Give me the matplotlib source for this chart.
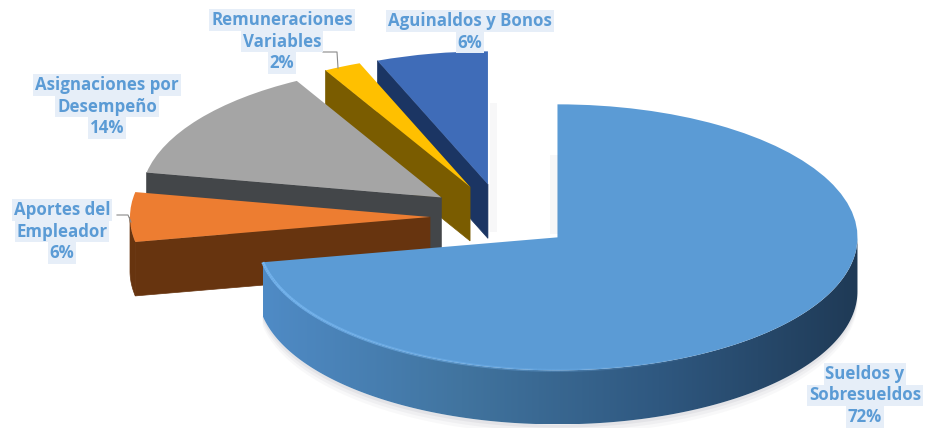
import numpy as np
import matplotlib
matplotlib.use('Agg')
import matplotlib.pyplot as plt
from matplotlib.colors import LinearSegmentedColormap
from matplotlib.patches import Polygon

plt.rcParams['font.family'] = ['Open Sans', 'DejaVu Sans']

# data, clockwise from 12 o'clock
categories = ['Sueldos y\nSobresueldos', 'Aportes del\nEmpleador', 'Asignaciones por\nDesempeño',
              'Remuneraciones\nVariables', 'Aguinaldos y Bonos']
values = [72, 6, 14, 2, 6]
explode = [0.24, 0.24, 0.25, 0.25, 0.25]
top_colors = ['#5b9bd5', '#ed7d31', '#a5a5a5', '#ffc000', '#3f6cb8']
side_colors = ['#2a4d70', '#67340f', '#434649', '#7a5c00', '#1b3563']

# label centres in pixels, first line y
label_x = [865, 62, 107, 282, 470]
label_y = [374, 210, 85, 20, 21]

W, H = 926, 428
CX, CY, RX, RY = 502, 217, 300, 133
DEPTH = 54 / RY

fig = plt.figure(figsize=(W / 100, H / 100), dpi=100)
ax = fig.add_axes([0, 0, 1, 1])
wedges, _ = ax.pie(values, explode=explode, colors=top_colors, startangle=90, counterclock=False)
xlim = (-CX / RX, (W - CX) / RX)
ylim = ((CY - H) / RY, CY / RY)
ax.axis('off')

rim_cmap = LinearSegmentedColormap.from_list('rim', ['#4f8bc6', '#41749f', '#2f5880', '#1f3a56'])

# 3d sides
n = len(values)
for i, w in enumerate(wedges):
    z = 10 * (n - i)
    w.set_zorder(z + 5)
    w.set_linewidth(0)
    cx, cy = w.center

    # cut face on the lower edge of the slice
    if i > 0:
        t = np.radians(w.theta2)
        ox, oy = cx + w.r * np.cos(t), cy + w.r * np.sin(t)
        ax.fill([cx, ox, ox, cx], [cy, oy, oy - DEPTH, cy - DEPTH], color=side_colors[i], lw=0.5, zorder=z + 1)

    # front part of the rim
    angles = np.linspace(w.theta1, w.theta2, 300)
    angles = angles[np.sin(np.radians(angles)) <= 0.001]
    if len(angles) < 2:
        continue
    xs = cx + w.r * np.cos(np.radians(angles))
    ys = cy + w.r * np.sin(np.radians(angles))
    px = np.r_[xs, xs[::-1]]
    py = np.r_[ys, ys[::-1] - DEPTH]
    if i == 0:
        # gradient across the rim, clipped to its outline
        clip = Polygon(np.c_[px, py], closed=True, transform=ax.transData, fc='none', ec='none')
        ax.add_patch(clip)
        img = ax.imshow(np.linspace(0, 1, 256)[None, :], cmap=rim_cmap, aspect='auto',
                        extent=(xs.min(), xs.max(), py.min(), py.max()), zorder=z + 2)
        img.set_clip_path(clip)
        # soft shadow below the main slice
        for s, a in zip([0.075, 0.05, 0.025], [0.05, 0.07, 0.1]):
            ax.fill(np.r_[xs, xs[::-1]], np.r_[ys - DEPTH - s, ys[::-1] - DEPTH], color='#808090', alpha=a, lw=0, zorder=1)
        # light bevel on the front edge of the top face
        m = len(xs)
        for k in range(0, int(m * 0.65)):
            ax.plot(xs[k:k + 2], ys[k:k + 2], color='#74b4ee', lw=2.2, alpha=1 - k / (m * 0.65),
                    solid_capstyle='butt', zorder=z + 6)
    else:
        ax.fill(px, py, color=side_colors[i], lw=0.5, zorder=z + 2)

ax.set_aspect('auto')
ax.set_xlim(xlim)
ax.set_ylim(ylim)

# labels and leader lines, in pixels
over = fig.add_axes([0, 0, 1, 1], zorder=5)
over.set_xlim(0, W)
over.set_ylim(H, 0)
over.axis('off')
over.patch.set_alpha(0)
over.plot([117, 128, 131], [215, 215, 222], color='#8a8a8a', lw=0.8)
over.plot([323, 337, 338], [52, 52, 68], color='#8a8a8a', lw=0.8)
# faint shadows to the right of the blue slices
over.fill_between([490, 497], 103, 232, color='#808090', alpha=0.06, lw=0)
over.fill_between([550, 559], 155, 234, color='#808090', alpha=0.06, lw=0)

for name, v, x, y in zip(categories, values, label_x, label_y):
    lines = name.split('\n') + [f'{v}%']
    for j, s in enumerate(lines):
        over.text(x, y + j * 21.5, s, ha='center', va='center', fontsize=12.2, fontweight='bold',
                  color='#5b9bd5', bbox=dict(facecolor='#e6eef8', edgecolor='none', pad=1.2))

fig.savefig('out.png', dpi=100, facecolor='white')
